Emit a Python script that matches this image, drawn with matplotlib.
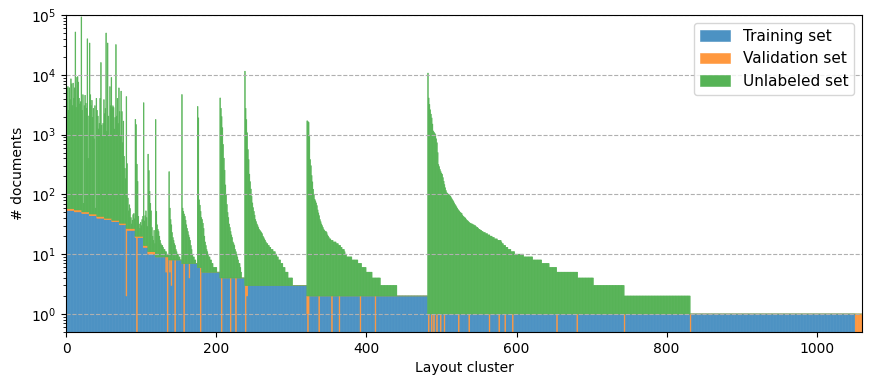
import numpy as np
import matplotlib
matplotlib.use("Agg")
import matplotlib.pyplot as plt

# labeled documents (train + validation) per layout cluster, as runs
labeled_level = [83, 58, 55, 51, 47, 43, 40, 37, 33, 27, 20, 14, 11, 9, 8, 7, 6, 5, 4, 3, 2, 1]
labeled_run = [1, 10, 10, 10, 10, 10, 10, 10, 9, 12, 11, 6, 10, 18, 17, 21, 6, 24, 33, 83, 161, 579]
# validation docs stacked on top of the training part, per labeled run
val_top_run = [6, 4, 4, 3, 3, 3, 2, 2, 2, 2, 1, 1, 1, 0, 0, 0, 0, 0, 0, 0, 0, 0]

# clusters with only validation docs (no training docs)
val_only_idx = [94, 135, 145, 157, 179, 207, 219, 226, 239, 322, 337, 354, 364, 392, 412,
                483, 487, 490, 494, 499, 504, 523, 537, 564, 577, 585, 595, 654, 681, 744,
                832, 1052, 1053, 1054, 1055, 1056, 1057, 1058, 1059, 1060]
# clusters with a larger validation share
val_part_idx = [80, 133, 138, 140, 164, 240, 241, 321, 323]
val_part_cnt = [25, 4, 3, 5, 3, 1, 1, 1, 1]

# unlabeled documents per cluster
unl_top = [64, 6000, 6300, 2500, 6000, 3800, 8500, 7000, 3000, 7200,
           4000, 6000, 52000, 2800, 9000, 9300, 7500, 4000, 3200, 3500,
           93000, 2500, 4600, 20, 3000, 4500, 3300, 2700, 40000, 350,
           2000, 34000, 4600, 3000, 3700, 1900, 2700, 800, 3000, 12,
           4000, 2500, 2000, 1200, 1500, 4000, 16000, 1400, 900, 1500,
           3800, 2200, 2700, 50000, 1100, 34000, 2000, 900, 6300, 3000,
           9000, 2800, 3000, 2800, 1200, 1900, 32000, 2000, 4000, 1500,
           6000, 2400, 900, 5300, 2400, 700, 1650, 400, 240, 150,
           4300, 300, 60, 26, 40, 31, 14, 5, 10, 19,
           21, 12, 1780, 1450, 300, 145, 23, 12, 7, 14,
           10, 18, 23, 3400, 22, 30, 39, 27, 15, 460,
           240, 102, 60, 42, 17, 9, 6, 14, 4]
unl_g9 = [1780, 43, 22, 17, 15, 11, 8, 6, 5, 5, 4, 3, 3, 2, 2, 1, 1, 1]
unl_g8 = [232, 51, 30, 23, 15, 11, 9, 7, 6, 4, 3, 2, 2, 1, 1, 0, 0]
unl_g7 = [4670, 52, 45, 40, 36, 30, 24, 20, 17, 14, 12, 10, 7, 5, 3, 2, 2, 1, 1, 0, 0]
unl_g6 = [2950, 1900, 75, 60, 46, 35, 33, 28, 22, 15, 11, 9, 7, 6, 5, 4, 4, 3, 3, 2,
          2, 1, 1, 1, 1, 1, 0, 0, 0, 0]
unl_g4 = [4100, 2750, 2000, 1300, 680, 400, 250, 140, 96, 64, 46, 37, 28, 24, 20, 17, 15,
          12, 11, 10, 8, 7, 6, 5, 4, 3, 3, 2, 1, 0, 0, 0, 0]
unl_g3 = [11500, 2750, 1780, 1070, 560, 380, 215, 160, 120, 90, 69, 57, 49, 42, 35, 32, 29,
          27, 25, 23, 22, 21, 20, 19, 17, 16, 15, 14, 13, 12, 12, 11, 11, 10, 10, 9, 9, 9,
          8, 8, 8, 7, 7, 6, 6, 5, 5, 5, 4, 4, 4, 3, 3, 3, 2, 2, 2, 2, 1, 1, 1, 1, 1, 1] + [0] * 19
unl_g2 = [1700, 1650, 1600, 930, 380, 300, 205, 160, 120, 98, 81, 76, 70, 63, 53, 47, 42,
          36, 33, 30, 28, 26, 24, 23, 22, 22, 21, 19, 18, 17, 16, 16, 15, 15, 15, 14, 14,
          14, 14, 13, 13, 13, 12, 12, 12, 11, 11, 10, 10, 10, 9, 8, 8, 7, 7, 7, 7, 7, 7, 7,
          6, 6, 6, 6, 6, 6, 6, 6, 5, 5, 5, 5, 5, 4, 4, 4, 4, 4, 4, 3, 3, 3, 3, 3, 3, 3, 3,
          2, 2, 2, 2, 2, 2, 2, 2, 2, 2, 2, 1, 1, 1, 1] + [1] * 18 + [0] * 41
unl_g1 = [10700, 4100, 3200, 2600, 2200, 1900, 1500, 1150, 1100, 1050, 1000, 850, 730, 500,
          315, 290, 260, 240, 225, 215, 190, 165, 145, 128, 115, 106,
          103, 100, 97, 95, 92, 87, 83, 79, 75, 71, 67, 64, 61, 58, 55, 53, 51, 49, 48, 47,
          44, 42, 41, 40, 39, 37, 36, 35, 34, 33,
          32, 32, 31, 31, 30, 30, 29, 29, 28, 27, 27, 26, 25, 25, 24, 24,
          23, 23, 22, 22, 22, 21, 21, 21, 20, 20, 20, 19, 19, 19, 18, 18, 18,
          17, 17, 17, 17, 16, 16, 16, 16, 16, 15, 14, 14, 13, 13, 13, 12, 12, 12,
          11, 11, 11, 11, 10, 10, 10, 10, 10]
unl_tail_level = [9, 8, 7, 6, 5, 4, 3, 2, 1, 0]
unl_tail_run = [12, 12, 12, 10, 10, 28, 21, 41, 88, 229]

labeled = np.repeat(labeled_level, labeled_run).astype(float)
val = np.repeat(val_top_run, labeled_run).astype(float)
val[val_only_idx] = labeled[val_only_idx]
val[val_part_idx] = val_part_cnt
train = labeled - val
unl = np.concatenate([unl_top, unl_g9, unl_g8, unl_g7, unl_g6, unl_g4, unl_g3, unl_g2,
                      unl_g1, np.repeat(unl_tail_level, unl_tail_run)]).astype(float)
x = np.arange(len(labeled))

# tab colours at alpha 0.8 on white, drawn opaque so the thin bars don't leave gaps
c_train, c_val, c_unl = "#4c92c3", "#ff983e", "#56b356"

fig = plt.figure(figsize=(8.72, 3.86), dpi=100)
ax = fig.add_axes([0.0757, 0.140, 0.9128, 0.821])
kw = dict(width=1.0, linewidth=0.4, snap=False)
ax.bar(x, train, color=c_train, edgecolor=c_train, label="Training set", **kw)
ax.bar(x, val, bottom=train, color=c_val, edgecolor=c_val, label="Validation set", **kw)
ax.bar(x, unl, bottom=train + val, color=c_unl, edgecolor=c_unl, label="Unlabeled set", **kw)
ax.set_yscale("log")
ax.set_ylim(0.5, 1e5)
ax.set_xlim(-0.5, len(x) - 0.5)
ax.yaxis.grid(True, which="major", linestyle="--", color="#b0b0b0")
ax.set_xlabel("Layout cluster")
ax.set_ylabel("# documents")
ax.legend(loc="upper right", fontsize=11)
fig.savefig("out.png", dpi=100)
